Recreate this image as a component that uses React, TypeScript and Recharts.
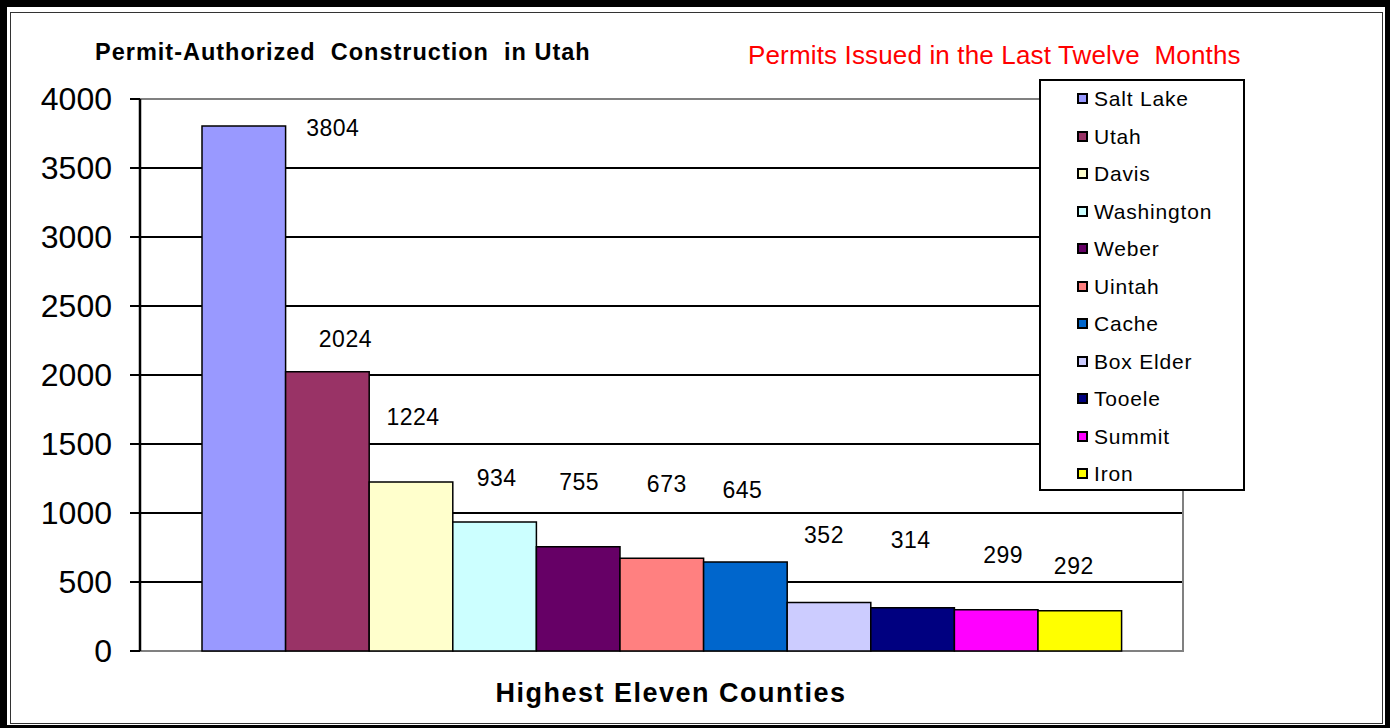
import React from 'react';
import { BarChart, Bar, XAxis, YAxis, CartesianGrid, Legend, ReferenceArea } from 'recharts';

const COUNTIES = ['Salt Lake', 'Utah', 'Davis', 'Washington', 'Weber', 'Uintah', 'Cache', 'Box Elder', 'Tooele', 'Summit', 'Iron'];
const PERMITS = [3804, 2024, 1224, 934, 755, 673, 645, 352, 314, 299, 292];
const COLORS = ['#9999FF', '#993366', '#FFFFCC', '#CCFFFF', '#660066', '#FF8080', '#0066CC', '#CCCCFF', '#000080', '#FF00FF', '#FFFF00'];
const Y_TICKS = [0, 500, 1000, 1500, 2000, 2500, 3000, 3500, 4000];
const GRID_VALUES = [500, 1000, 1500, 2000, 2500, 3000, 3500];
const CATEGORY = 'Highest Eleven Counties';
const TITLE = 'Permit-Authorized  Construction  in Utah';
const SUBTITLE = 'Permits Issued in the Last Twelve  Months';

// label placement offsets (style only): [dx from bar centre, dy from bar top]
const LABEL_OFFSETS = [[89, 2], [18, -33], [2, -65], [2, -44], [1, -65], [5, -74], [-3, -72], [-5, -67], [-2, -68], [7, -55], [-6, -45]];

const row: Record<string, any> = { name: CATEGORY };
COUNTIES.forEach((c, i) => { row[c] = PERMITS[i]; });
const data = [row];

const FONT = '"Liberation Sans", Arial, sans-serif';

const makeLabel = (i: number) => (props: any) => {
  const { x, y, width, value } = props;
  const [dx, dy] = LABEL_OFFSETS[i];
  const cx = Number(x) + Number(width) / 2 + dx;
  const cy = Number(y) + dy;
  return (
    <text x={cx} y={cy + 0.35 * 23} textAnchor="middle" fontSize={23} fill="#000" fontFamily={FONT} letterSpacing={0.5}>
      {value}
    </text>
  );
};

const renderLegend = (props: any) => {
  const raw = (props && props.payload && props.payload.length ? props.payload : COUNTIES.map((c, i) => ({ value: c, color: COLORS[i] })));
  const payload = [...raw].sort((a: any, b: any) => COUNTIES.indexOf(a.value) - COUNTIES.indexOf(b.value));
  return (
    <div style={{ width: 206, height: 412, boxSizing: 'border-box', border: '2px solid #000', background: '#fff', fontFamily: FONT }}>
      {payload.map((p: any, i: number) => (
        <div key={i} style={{ height: 37.5, position: 'relative' }}>
          <div style={{ position: 'absolute', left: 36, top: 12, width: 11, height: 11, boxSizing: 'border-box', border: '2px solid #000', background: p.color }} />
          <div style={{ position: 'absolute', left: 53, top: 7, fontSize: 21, lineHeight: '21px', letterSpacing: 0.8, color: '#000', whiteSpace: 'pre' }}>{p.value}</div>
        </div>
      ))}
    </div>
  );
};

export default function App() {
  return (
    <div style={{ position: 'absolute', left: 0, top: 0, width: 1390, height: 728, background: '#fff', fontFamily: FONT, overflow: 'hidden' }}>
      <div style={{ position: 'absolute', left: 0, top: 0, width: 1390, height: 728, boxSizing: 'border-box', borderTop: '7px solid #000', borderLeft: '7px solid #000', borderRight: '5px solid #000', borderBottom: '3px solid #000' }} />
      <div style={{ position: 'absolute', left: 10, top: 12, width: 1373, height: 712, boxSizing: 'border-box', border: '1.5px solid #333' }} />
      <div style={{ position: 'absolute', left: 0, top: 0 }}>
        <BarChart width={1390} height={728} data={data} margin={{ top: 99, right: 207, bottom: 77, left: 0 }} barGap={0} barSize={83.6} style={{ fontFamily: FONT }}>
          <ReferenceArea y1={0} y2={4000} fill="none" stroke="#808080" strokeWidth={2} ifOverflow="visible" />
          <CartesianGrid vertical={false} horizontalValues={GRID_VALUES} stroke="#000" strokeWidth={2} />
          <XAxis dataKey="name" tick={false} tickLine={false} height={0} axisLine={false} />
          <YAxis width={140} domain={[0, 4000]} ticks={Y_TICKS} interval={0} tickSize={10} tickMargin={18}
            axisLine={{ stroke: '#000', strokeWidth: 2.5 }} tickLine={{ stroke: '#000', strokeWidth: 2 }}
            tick={{ fontSize: 32, fill: '#000', fontFamily: FONT }} />
          {COUNTIES.map((c, i) => (
            <Bar key={c} dataKey={c} fill={COLORS[i]} stroke="#000" strokeWidth={1.5} isAnimationActive={false} label={makeLabel(i)} />
          ))}
          <Legend layout="vertical" align="center" verticalAlign="middle" content={renderLegend}
            wrapperStyle={{ left: 1039, top: 79, width: 206, height: 412 }} />
        </BarChart>
      </div>
      <div style={{ position: 'absolute', left: 95, top: 41, fontSize: 23.5, lineHeight: '23.5px', fontWeight: 'bold', letterSpacing: 1.0, whiteSpace: 'pre', color: '#000' }}>{TITLE}</div>
      <div style={{ position: 'absolute', left: 748, top: 42, fontSize: 26, lineHeight: '26px', letterSpacing: 0.15, whiteSpace: 'pre', color: '#FF0000' }}>{SUBTITLE}</div>
      <div style={{ position: 'absolute', left: 371, width: 600, top: 680, textAlign: 'center', fontSize: 27, lineHeight: '27px', fontWeight: 'bold', letterSpacing: 1.5, whiteSpace: 'pre', color: '#000' }}>{CATEGORY}</div>
    </div>
  );
}
